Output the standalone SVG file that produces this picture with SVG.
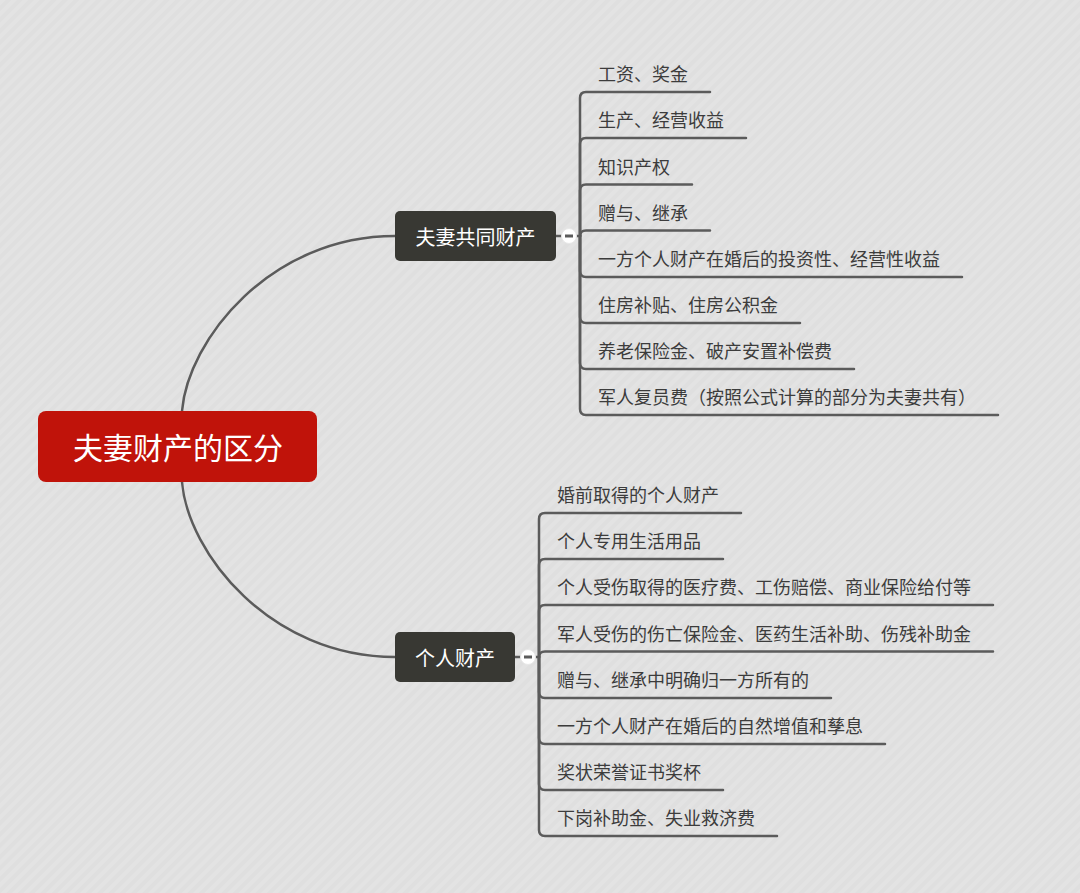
<svg xmlns="http://www.w3.org/2000/svg" width="1080" height="893" viewBox="0 0 1080 893">
<defs>
<pattern id="bg" width="8" height="8" patternUnits="userSpaceOnUse" patternTransform="rotate(45)">
<rect width="8" height="8" fill="#dfdfdf"/>
<rect width="4" height="8" fill="#e3e3e3"/>
</pattern>
<style>
.ln{fill:none;stroke:#5b5b5b;stroke-width:2.5;stroke-linecap:round}
.cv{fill:none;stroke:#5b5b5b;stroke-width:2.5}
.t{font-family:"Noto Sans CJK SC","Liberation Sans",sans-serif;font-size:18px;fill:#3c3c3c}
.nt{font-family:"Noto Sans CJK SC","Liberation Sans",sans-serif;font-size:20px;fill:#ffffff;text-anchor:middle;dominant-baseline:central}
.rt{font-family:"Noto Sans CJK SC","Liberation Sans",sans-serif;font-size:30px;fill:#ffffff;text-anchor:middle;dominant-baseline:central}
.dk{fill:#383833}
.cc{fill:#ffffff;stroke:#e8e8e8;stroke-width:1}
.mn{stroke:#5b5b5b;stroke-width:3}
</style>
</defs>
<rect width="1080" height="893" fill="url(#bg)"/>
<g id="connectors">
<path class="cv" d="M182 411 C188 340 270 236 395 236"/>
<path class="cv" d="M182 482 C188 553 270 657 395 657"/>
<path class="ln" d="M556 236 H580"/>
<path class="ln" d="M580 236 V98 Q580 92 586 92 H710"/>
<path class="ln" d="M580 236 V144 Q580 138 586 138 H746"/>
<path class="ln" d="M580 236 V190.5 Q580 184.5 586 184.5 H692"/>
<path class="ln" d="M580 236 Q580 230.5 586 230.5 H710"/>
<path class="ln" d="M580 236 V271 Q580 277 586 277 H962"/>
<path class="ln" d="M580 236 V317 Q580 323 586 323 H800"/>
<path class="ln" d="M580 236 V363 Q580 369 586 369 H854"/>
<path class="ln" d="M580 236 V409 Q580 415 586 415 H998"/>
<path class="ln" d="M515 657 H539"/>
<path class="ln" d="M539 657 V519 Q539 513 545 513 H741"/>
<path class="ln" d="M539 657 V565 Q539 559 545 559 H723"/>
<path class="ln" d="M539 657 V611 Q539 605 545 605 H993"/>
<path class="ln" d="M539 657 Q539 651.5 545 651.5 H993"/>
<path class="ln" d="M539 657 V692 Q539 698 545 698 H831"/>
<path class="ln" d="M539 657 V738 Q539 744 545 744 H885"/>
<path class="ln" d="M539 657 V784 Q539 790 545 790 H723"/>
<path class="ln" d="M539 657 V830 Q539 836 545 836 H777"/>
</g>
<g id="root">
<rect x="38" y="411" width="279" height="71" rx="8" fill="#c0130a"/>
<text class="rt" x="178" y="446">夫妻财产的区分</text>
</g>
<g id="node-common">
<rect class="dk" x="395" y="211" width="161" height="50" rx="5"/>
<text class="nt" x="475.5" y="236">夫妻共同财产</text>
<circle class="cc" cx="569" cy="236" r="7.5"/>
<line class="mn" x1="565" y1="236" x2="573" y2="236"/>
</g>
<g id="node-personal">
<rect class="dk" x="395" y="632" width="120" height="50" rx="5"/>
<text class="nt" x="455" y="657">个人财产</text>
<circle class="cc" cx="528" cy="657" r="7.5"/>
<line class="mn" x1="524" y1="657" x2="532" y2="657"/>
</g>
<g id="common-items">
<text class="t" x="598" y="81">工资、奖金</text>
<text class="t" x="598" y="127">生产、经营收益</text>
<text class="t" x="598" y="173.5">知识产权</text>
<text class="t" x="598" y="219.5">赠与、继承</text>
<text class="t" x="598" y="266">一方个人财产在婚后的投资性、经营性收益</text>
<text class="t" x="598" y="312">住房补贴、住房公积金</text>
<text class="t" x="598" y="358">养老保险金、破产安置补偿费</text>
<text class="t" x="598" y="404">军人复员费（按照公式计算的部分为夫妻共有）</text>
</g>
<g id="personal-items">
<text class="t" x="557" y="502">婚前取得的个人财产</text>
<text class="t" x="557" y="548">个人专用生活用品</text>
<text class="t" x="557" y="594">个人受伤取得的医疗费、工伤赔偿、商业保险给付等</text>
<text class="t" x="557" y="640.5">军人受伤的伤亡保险金、医药生活补助、伤残补助金</text>
<text class="t" x="557" y="687">赠与、继承中明确归一方所有的</text>
<text class="t" x="557" y="733">一方个人财产在婚后的自然增值和孳息</text>
<text class="t" x="557" y="779">奖状荣誉证书奖杯</text>
<text class="t" x="557" y="825">下岗补助金、失业救济费</text>
</g>
</svg>
